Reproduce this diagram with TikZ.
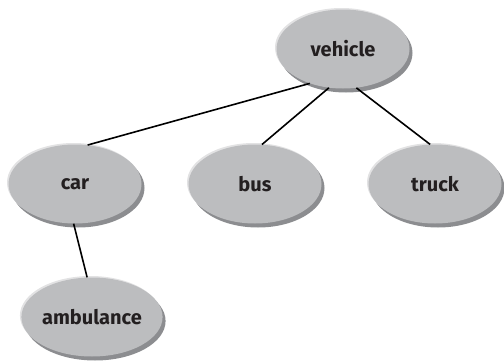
\documentclass[tikz,border=0pt]{standalone}
\usepackage{fontspec}
\setmainfont{Fira Sans}
\usepackage{xcolor}
\usepackage{tikz}
\usetikzlibrary{shapes.geometric}
\usetikzlibrary{shadows}
\definecolor{blobgray}{HTML}{BCBDBF}
\definecolor{blobdark}{HTML}{8C8D90}
\definecolor{bloblight}{HTML}{E2E2E3}
\definecolor{blobtext}{HTML}{231F20}
\tikzset{
	blob/.style={ellipse,fill=blobgray,minimum width=133pt,minimum height=79pt,inner sep=0pt,
		text=blobtext,font=\fontsize{20}{24}\selectfont\bfseries,
		general shadow={shadow xshift=3pt,shadow yshift=-4pt,fill=blobdark},
		general shadow={shadow xshift=-1.5pt,shadow yshift=1.5pt,fill=bloblight}},
	link/.style={line width=1.6pt,black}
}
\begin{document}
\begin{tikzpicture}[x=1pt,y=1pt]
	\useasboundingbox (0,0) rectangle (504,360);
	\node[blob] (vehicle) at (343,311) {vehicle};
	\node[blob] (car) at (75,176) {car};
	\node[blob] (bus) at (255,176) {bus};
	\node[blob] (truck) at (435,176) {truck};
	\node[blob] (ambulance) at (92,43) {ambulance};
	\draw[link] (vehicle.226) -- (car.72);
	\draw[link] (vehicle.250) -- (bus.80);
	\draw[link] (vehicle.289) -- (truck.97);
	\draw[link] (car.268) -- (ambulance.97);
\end{tikzpicture}
\end{document}
